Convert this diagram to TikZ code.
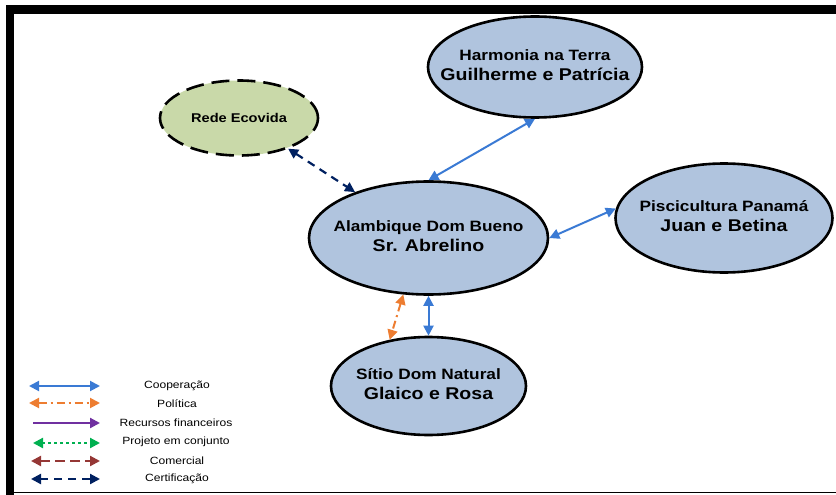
\documentclass[tikz,border=0pt]{standalone}
\usepackage{fontspec}
\setmainfont{Liberation Sans}[FakeStretch=1.15]
\usetikzlibrary{arrows.meta,shapes.geometric}

\definecolor{azulcoop}{RGB}{58,122,212}
\definecolor{laranja}{RGB}{237,125,49}
\definecolor{roxo}{RGB}{112,48,160}
\definecolor{verdeproj}{RGB}{0,176,80}
\definecolor{vinho}{RGB}{149,55,53}
\definecolor{marinho}{RGB}{0,32,96}
\definecolor{azulbola}{RGB}{176,196,222}
\definecolor{verdebola}{RGB}{201,217,169}

\newcommand{\rotulo}[2]{\makebox[0pt]{\begin{tabular}{@{}c@{}}%
  {\fontsize{15}{18}\selectfont\bfseries #1}\\[4pt]%
  {\fontsize{17}{20}\selectfont\bfseries #2}\end{tabular}}}

\tikzset{
  bola/.style={shape=ellipse,draw,line width=2.6pt,fill=azulbola,inner sep=0pt},
  coop/.style={azulcoop,line width=2pt,{Triangle[length=10pt,width=10pt]}-{Triangle[length=10pt,width=10pt]}},
  poli/.style={laranja,line width=2pt,dash pattern=on 8pt off 4pt on 2pt off 4pt,{Triangle[length=10pt,width=10pt]}-{Triangle[length=10pt,width=10pt]}},
  recu/.style={roxo,line width=2.2pt,-{Triangle[length=10pt,width=10pt]}},
  proj/.style={verdeproj,line width=2.2pt,dash pattern=on 3pt off 3pt,{Triangle[length=10pt,width=10pt]}-{Triangle[length=10pt,width=10pt]}},
  come/.style={vinho,line width=2.2pt,dash pattern=on 10pt off 5pt,{Triangle[length=10pt,width=10pt]}-{Triangle[length=10pt,width=10pt]}},
  cert/.style={marinho,line width=2.2pt,dash pattern=on 8pt off 6pt,{Triangle[length=10pt,width=10pt]}-{Triangle[length=10pt,width=10pt]}},
  leg/.style={font=\fontsize{10.5}{12}\selectfont,inner sep=0pt}
}

\begin{document}
\begin{tikzpicture}[x=1pt,y=-1pt]
\useasboundingbox (0,0) rectangle (836,495);

% moldura
\fill (6,5) rectangle (836,14);
\fill (6,5) rectangle (14,495);
\draw[line width=1.5pt] (14,492.5) -- (836,492.5);

\node(harmonia) at (535,67)[bola,minimum width=214pt,minimum height=101pt]
  {\rotulo{Harmonia na Terra}{Guilherme e Patrícia}};
\node(rede) at (239,118)[bola,fill=verdebola,dash pattern=on 18pt off 8pt,minimum width=158pt,minimum height=75pt]
  {\makebox[0pt]{\fontsize{12.7}{15}\selectfont\bfseries Rede Ecovida}};
\node(alambique) at (428.5,238)[bola,minimum width=239pt,minimum height=113pt]
  {\rotulo{Alambique Dom Bueno}{Sr. Abrelino}};
\node(piscicultura) at (724,218)[bola,minimum width=217pt,minimum height=109pt]
  {\rotulo{Piscicultura Panamá}{Juan e Betina}};
\node(sitio) at (428.5,386)[bola,minimum width=195pt,minimum height=98pt]
  {\rotulo{Sítio Dom Natural}{Glaico e Rosa}};

\path
  (alambique.north)  edge [coop]  (harmonia.south)
  (alambique.east)   edge [coop]  (piscicultura.175)
  (alambique.south)  edge [coop]  (sitio.north)
  (alambique.246)    edge [poli]  (sitio.130)
  (rede.328)         edge [cert]  (alambique.148);

% legenda
\coordinate(c1a) at (29,386); \coordinate(c1b) at (100,386);
\coordinate(c2a) at (29,403); \coordinate(c2b) at (100,403);
\coordinate(c3a) at (33,423); \coordinate(c3b) at (100,423);
\coordinate(c4a) at (33,443); \coordinate(c4b) at (100,443);
\coordinate(c5a) at (31,461); \coordinate(c5b) at (100,461);
\coordinate(c6a) at (31,479); \coordinate(c6b) at (100,479);

\node(l1) at (177,386)[leg] {Cooperação};
\node(l2) at (177,404)[leg] {Política};
\node(l3) at (176,423)[leg] {Recursos financeiros};
\node(l4) at (176,442)[leg] {Projeto em conjunto};
\node(l5) at (177,461)[leg] {Comercial};
\node(l6) at (177,479)[leg] {Certificação};

\path
  (c1a) edge [coop] (c1b)
  (c2a) edge [poli] (c2b)
  (c3a) edge [recu] (c3b)
  (c4a) edge [proj] (c4b)
  (c5a) edge [come] (c5b)
  (c6a) edge [cert] (c6b);

\end{tikzpicture}
\end{document}
